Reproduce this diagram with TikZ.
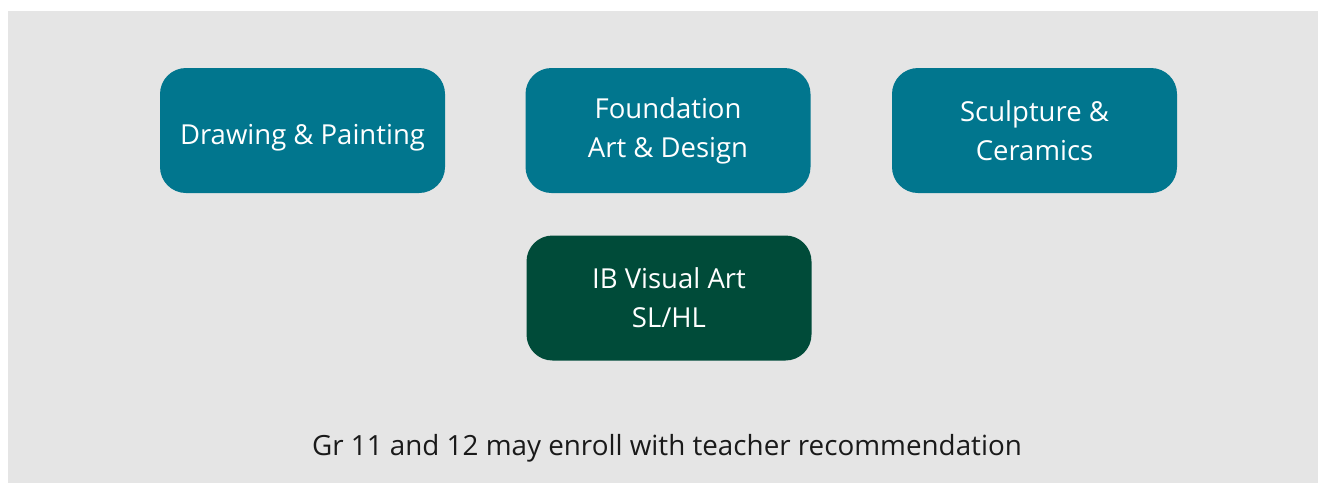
\documentclass[tikz,border=0pt]{standalone}
\usepackage{fontspec}
\setmainfont{Open Sans}
\usepackage{xcolor}

\definecolor{bgGray}{HTML}{E5E5E5}
\definecolor{courseTeal}{HTML}{01768E}
\definecolor{ibGreen}{HTML}{004B39}
\definecolor{noteText}{HTML}{1A1A1A}

\begin{document}
\begin{tikzpicture}[x=1pt, y=-1pt]

%-------------------------------------------------
% Styles
%-------------------------------------------------
\tikzset{
  course/.style={rectangle, rounded corners=26pt, fill=courseTeal,
    minimum width=285pt, minimum height=125pt, inner sep=0pt,
    text=white, align=center,
    font=\fontsize{27.5}{39}\selectfont},
  ib_course/.style={course, fill=ibGreen},
  note/.style={text=noteText, anchor=base,
    font=\fontsize{27.8}{32}\selectfont}
}

%-------------------------------------------------
% Background
%-------------------------------------------------
\useasboundingbox (0,0) rectangle (1318,483);
\fill[white] (0,0) rectangle (1318,483);
\fill[bgGray] (8,11) rectangle (1318,483);

%-------------------------------------------------
% Course boxes
%-------------------------------------------------
\node[course, text height=28pt, text depth=0pt] (drawing) at (302.5,130.5) {Drawing \& Painting};
\node[course] (foundation) at (668,130.5) {Foundation\\Art \& Design};
\node[course] (sculpture) at (1034.5,130.5) {Sculpture \&\\Ceramics};

\node[ib_course] (ib) at (669,298) {IB Visual Art\\SL/HL};

%-------------------------------------------------
% Note
%-------------------------------------------------
\node[note] (enroll) at (667,455) {Gr 11 and 12 may enroll with teacher recommendation};

\end{tikzpicture}
\end{document}
